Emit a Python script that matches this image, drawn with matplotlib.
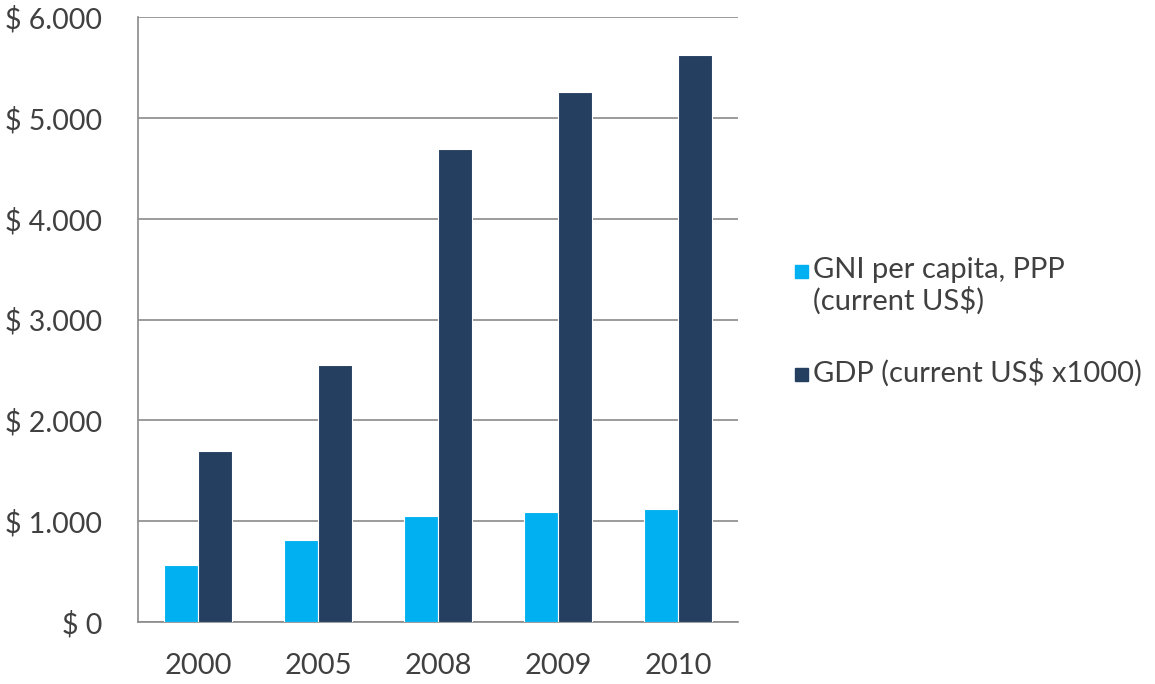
import numpy as np
import matplotlib.pyplot as plt
from matplotlib.patches import Rectangle
from matplotlib.ticker import FuncFormatter

# Valores por año
years = ["2000", "2005", "2008", "2009", "2010"]
gni_ppp = [566, 812, 1057, 1089, 1126]
gdp_k = [1700, 2555, 4697, 5261, 5625]

gni_label = "GNI per capita, PPP\n(current US$)"
gdp_label = "GDP (current US$ x1000)"
gni_color = "#00B0F0"
gdp_color = "#243F60"
text_color = "#404040"

plt.rcParams["font.family"] = ["Lato", "DejaVu Sans"]

W, H = 1155, 684
fig = plt.figure(figsize=(W / 100, H / 100), dpi=100)
ax = fig.add_axes([0.1195, 0.0906, 0.5195, 0.884])

x = np.arange(len(years))
w = 0.28
ax.bar(x - w / 2, gni_ppp, width=w, color=gni_color, edgecolor="white",
       linewidth=0.8, zorder=3)
ax.bar(x + w / 2, gdp_k, width=w, color=gdp_color, edgecolor="white",
       linewidth=0.8, zorder=3)

ax.set_xlim(-0.5, len(years) - 0.5)
ax.set_ylim(0, 6000)
ax.set_yticks(range(0, 6001, 1000))
ax.yaxis.set_major_formatter(FuncFormatter(lambda v, p: "$ " + f"{int(v):,}".replace(",", ".")))
ax.set_xticks(x)
ax.set_xticklabels(years)

ax.grid(axis="y", color="#8a8a8a", linewidth=1.2, zorder=0)
for s in ["top", "right"]:
    ax.spines[s].set_visible(False)
for s in ["left", "bottom"]:
    ax.spines[s].set_color("#8a8a8a")
    ax.spines[s].set_linewidth(1.2)
ax.tick_params(axis="y", length=0, pad=26, labelsize=20.5, labelcolor=text_color)
ax.tick_params(axis="x", length=0, pad=22, labelsize=21, labelcolor=text_color)

# leyenda a mano: marcador alineado con la primera línea del texto
entries = [(gni_color, gni_label, 270), (gdp_color, gdp_label, 373)]
for color, label, ypix in entries:
    fig.patches.append(Rectangle((795 / W, 1 - (ypix + 8) / H), 13 / W, 13 / H,
                                 transform=fig.transFigure, color=color))
    for i, line in enumerate(label.split("\n")):
        fig.text(813 / W, 1 - (ypix + 31 * i) / H, line, fontsize=21,
                 color=text_color, va="center", ha="left")

fig.savefig("out.png", dpi=100)
